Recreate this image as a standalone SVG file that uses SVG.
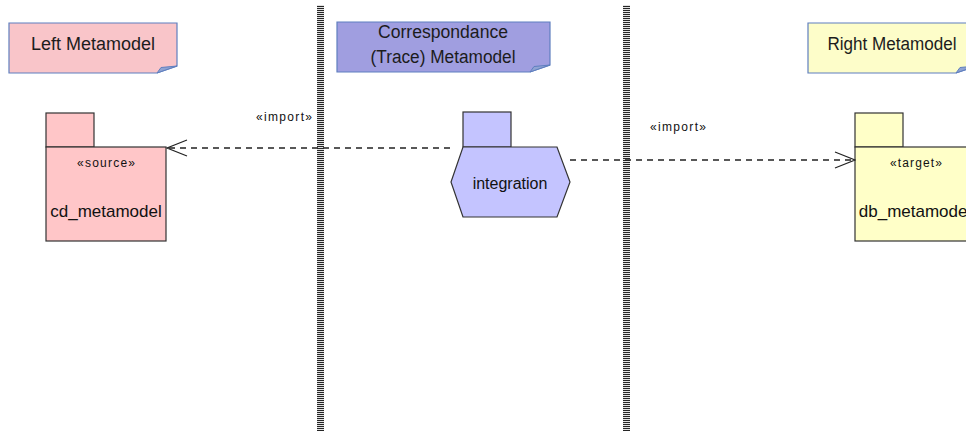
<svg xmlns="http://www.w3.org/2000/svg" width="966" height="431" viewBox="0 0 966 431">
  <defs>
    <pattern id="stripes" x="0" y="0" width="7" height="2" patternUnits="userSpaceOnUse">
      <rect x="0" y="0" width="7" height="1" fill="#262626"/>
      <rect x="0" y="1" width="7" height="1" fill="#e2e2e2"/>
    </pattern>
    <marker id="open" markerWidth="22" markerHeight="18" refX="21" refY="9" orient="auto" markerUnits="userSpaceOnUse">
      <path d="M1,1 L21,9 L1,17" fill="none" stroke="#222" stroke-width="1.2"/>
    </marker>
  </defs>
  <style>
    .note { stroke: #5f7fbf; stroke-width: 1.2; }
    .fold { fill: #8fa3d3; stroke: #5f7fbf; stroke-width: 1; }
    .ntext { font-family: "Liberation Sans", Arial, sans-serif; font-size: 18px; fill: #1c1c1c; text-anchor: middle; }
    .pkg { stroke: #333; stroke-width: 1.2; }
    .name { font-family: "Liberation Sans", Arial, sans-serif; font-size: 17px; fill: #111; text-anchor: middle; }
    .stereo { font-family: "Liberation Sans", Arial, sans-serif; font-size: 12px; fill: #111; text-anchor: middle; }
    .dep { fill: none; stroke: #222; stroke-width: 1.3; stroke-dasharray: 6 5; }
  </style>
  <rect width="966" height="431" fill="#ffffff"/>

  <!-- swimlane separators -->
  <g id="separators">
    <rect x="317" y="5" width="7" height="426" fill="url(#stripes)"/>
    <rect x="623" y="5" width="7" height="426" fill="url(#stripes)"/>
  </g>

  <!-- lane headers -->
  <g id="note-left">
    <path class="note" d="M9,23 H177 V66 L157,73 H9 Z" fill="#f9c5c9"/>
    <path class="fold" d="M157,73 L161,67.5 L177,66 Z"/>
    <text class="ntext" x="93" y="50" textLength="124" lengthAdjust="spacingAndGlyphs">Left Metamodel</text>
  </g>
  <g id="note-trace">
    <path class="note" d="M337,22 H550 V65 L530,72 H337 Z" fill="#a09ee0"/>
    <path class="fold" d="M530,72 L534,66.5 L550,65 Z"/>
    <text class="ntext" x="443" y="38" textLength="130" lengthAdjust="spacingAndGlyphs">Correspondance</text>
    <text class="ntext" x="443" y="63" textLength="145" lengthAdjust="spacingAndGlyphs">(Trace) Metamodel</text>
  </g>
  <g id="note-right">
    <path class="note" d="M808,23 H976 V66 L956,73 H808 Z" fill="#fdfdc9"/>
    <path class="fold" d="M956,73 L960,67.5 L976,66 Z"/>
    <text class="ntext" x="892" y="50" textLength="129" lengthAdjust="spacingAndGlyphs">Right Metamodel</text>
  </g>

  <!-- packages -->
  <g id="cd_metamodel">
    <rect class="pkg" x="46" y="113" width="48" height="34" fill="#ffc6c8"/>
    <rect class="pkg" x="46" y="147" width="120" height="94" fill="#ffc6c8"/>
    <text class="stereo" x="106" y="167" textLength="58" lengthAdjust="spacing">«source»</text>
    <text class="name" x="106" y="217">cd_metamodel</text>
  </g>
  <g id="integration">
    <rect class="pkg" x="463" y="112" width="48" height="35" fill="#c4c4ff"/>
    <path class="pkg" d="M463,147 H557 L570,182 L557,217 H463 L451,182 Z" fill="#c4c4ff"/>
    <text class="name" x="510" y="189" style="font-size:16px">integration</text>
  </g>
  <g id="db_metamodel">
    <rect class="pkg" x="855" y="113" width="48" height="34" fill="#ffffc8"/>
    <rect class="pkg" x="855" y="147" width="120" height="94" fill="#ffffc8"/>
    <text class="stereo" x="916" y="167" textLength="52" lengthAdjust="spacing">«target»</text>
    <text class="name" x="915" y="217">db_metamodel</text>
  </g>

  <!-- import dependencies -->
  <g id="connectors">
    <line class="dep" x1="450" y1="148" x2="167" y2="148" marker-end="url(#open)"/>
    <text class="stereo" x="284" y="121" textLength="56" lengthAdjust="spacing">«import»</text>
    <line class="dep" x1="570" y1="160" x2="855" y2="160" marker-end="url(#open)"/>
    <text class="stereo" x="678" y="131" textLength="56" lengthAdjust="spacing">«import»</text>
  </g>
</svg>
